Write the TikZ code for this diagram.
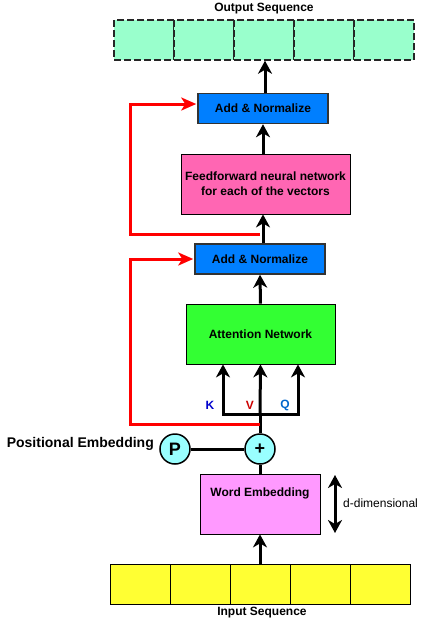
\documentclass[tikz,border=0pt]{standalone}
\usepackage{fontspec}
\setmainfont{Liberation Sans}
\usetikzlibrary{arrows.meta,positioning}
\definecolor{outC}{HTML}{99FFCC}
\definecolor{inC}{HTML}{FFFF33}
\definecolor{anC}{HTML}{007FFF}
\definecolor{ffC}{HTML}{FF66B3}
\definecolor{attC}{HTML}{33FF33}
\definecolor{weC}{HTML}{FF99FF}
\definecolor{circC}{HTML}{99FFFF}
\definecolor{kC}{HTML}{0000CC}
\definecolor{vC}{HTML}{CC0000}
\definecolor{qC}{HTML}{0066CC}
\definecolor{redL}{HTML}{FF0000}
\tikzset{
  lbl/.style={font=\fontsize{12}{14}\selectfont\bfseries, inner sep=0pt},
  cellbox/.style={draw=black, line width=0.8pt, minimum width=60pt, minimum height=40pt, inner sep=0pt},
  outcell/.style={cellbox, fill=outC, draw=black!85, line width=1.5pt, dash pattern=on 7pt off 3pt},
  incell/.style={cellbox, fill=inC},
  anbox/.style={draw=black!80, line width=1.5pt, fill=anC, minimum width=130pt, minimum height=30pt, inner sep=0pt, font=\fontsize{12}{14}\selectfont\bfseries},
  blk/.style={draw=black, line width=0.8pt, inner sep=0pt, font=\fontsize{12}{14}\selectfont\bfseries, align=center},
  circ/.style={circle, draw=black, line width=1.5pt, fill=circC, minimum size=30pt, inner sep=0pt, font=\fontsize{18}{20}\selectfont\bfseries},
  arr/.style={line width=3pt, -{Stealth[length=13pt,width=14pt,inset=4pt]}},
  plain/.style={line width=3pt},
  redarr/.style={line width=3pt, draw=redL, -{Stealth[length=15pt,width=13pt,inset=4pt]}},
}
\begin{document}
\begin{tikzpicture}[x=1pt,y=-1pt]
\useasboundingbox (0,0) rectangle (426,625);
% output sequence
\node[lbl] (outlbl) at (264,9) {Output Sequence};
\foreach \i/\xx in {1/144,2/204,3/264,4/324,5/384}{
  \node[outcell] (o\i) at (\xx,40) {};
}
% blocks
\node[anbox] (an2) at (263,108.5) {Add \& Normalize};
\node[blk, fill=ffC, minimum width=169pt, minimum height=60pt] (ff) at (265.5,184) {Feedforward neural network\\[1pt]for each of the vectors};
\node[anbox] (an1) at (260,259) {Add \& Normalize};
\node[blk, fill=attC, minimum width=149pt, minimum height=60pt] (att) at (260.5,334) {Attention Network};
\node[circ] (plus) at (260,449) {+};
\node[circ] (P) at (175,449) {P};
\node[lbl, anchor=east, font=\fontsize{14}{16}\selectfont\bfseries] (poslbl) at (154,444) {Positional Embedding};
\node[blk, fill=weC, minimum width=120pt, minimum height=60pt,
  label={[anchor=center, yshift=-20pt, font=\fontsize{12}{14}\selectfont\bfseries]north:Word Embedding}] (we) at (260,504) {};
% input sequence
\foreach \i/\xx in {1/140,2/200,3/260,4/320,5/380}{
  \node[incell] (i\i) at (\xx,584) {};
}
\node[lbl] (inlbl) at (262,613) {Input Sequence};
% d-dimensional
\coordinate (d1) at (335,475);
\coordinate (d2) at (335,533);
\draw[line width=3pt, {Stealth[length=13pt,width=14pt,inset=4pt]}-{Stealth[length=13pt,width=14pt,inset=4pt]}] (d1) -- (d2);
\node[anchor=west, inner sep=0pt, font=\fontsize{12}{14}\selectfont] (dlbl) at (343,503) {d-dimensional};
% black connectors
\draw[arr] (i3.north) -- (we.south);
\draw[plain] (we.north) -- (plus.south);
\draw[plain] (P.east) -- (plus.west);
\coordinate (split) at (260,414);
\coordinate (kb) at (223,414);
\coordinate (qb) at (298,414);
\draw[plain] (plus.north) -- (split);
\draw[line width=3pt, line cap=rect] (kb) -- (qb);
\draw[arr] (kb) -- (kb |- att.south);
\draw[arr] (split) -- (att.south);
\draw[arr] (qb) -- (qb |- att.south);
\node[lbl, text=kC] (klbl) at (210,405) {K};
\node[lbl, text=vC] (vlbl) at (250,405) {V};
\node[lbl, text=qC] (qlbl) at (285,405) {Q};
\draw[arr] (att.north) -- (an1.south);
\draw[arr] ([xshift=3pt]an1.north) -- ([xshift=3pt]an1.north |- ff.south);
\draw[arr] (an2.south |- ff.north) -- (an2.south);
\draw[arr] ([xshift=2pt]an2.north) -- ([xshift=2pt]an2.north |- o3.south);
% red residual connectors
\coordinate (r1) at (260,424);
\coordinate (rl1) at (130,424);
\draw[redarr] (r1) -- (rl1) |- ([xshift=-1pt]an1.west);
\coordinate (r2) at (260,234);
\coordinate (rl2) at (130,234);
\draw[redarr] (r2) -- (rl2) |- ([yshift=4.5pt,xshift=-1pt]an2.west);
\end{tikzpicture}
\end{document}
